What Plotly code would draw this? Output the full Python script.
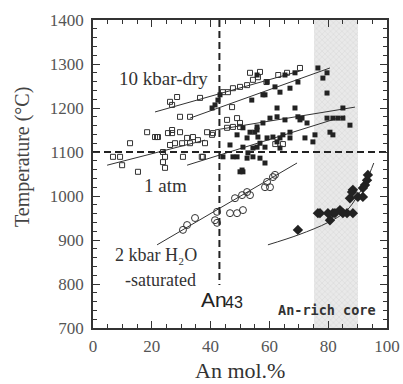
import plotly.graph_objects as go

# ---- data ----
open_sq_x = [6.8, 9.2, 9.9, 12.6, 15.3, 18.4, 21.1, 22.1, 23.8, 23.8, 24.5, 25.5, 26.9, 26.2, 27.9, 29.6,
             30.3, 32, 33, 33, 34, 37.4, 38.1, 38.8, 40.8, 21.8, 26.9, 29.6, 24.5, 30.6, 37, 40.5, 35.7,
             45.6, 49, 45.6, 50, 26.9, 28.6, 36.4, 47.3, 44.2, 45.9, 47.6, 50, 52.4, 54.4, 56.1, 53.4,
             47.6, 50, 26.2, 56.8, 70.4, 66, 63, 59, 62, 64.6]
open_sq_y = [1089, 1089, 1070, 1120, 1055, 1145, 1134, 1134, 1100, 1077, 1064, 1143, 1143, 1116, 1120, 1180,
             1120, 1132, 1180, 1120, 1134, 1089, 1120, 1145, 1143, 1134, 1150, 1145, 1089, 1089, 1089, 1139, 1127,
             1173, 1177, 1155, 1166, 1207, 1225, 1223, 1202, 1236, 1236, 1245, 1248, 1252, 1264, 1270, 1280,
             1157, 1157, 1214, 1282, 1291, 1280, 1275, 1259, 1118, 1118]

fill_sq_x = [55, 55.8, 57.8, 60.2, 62.6, 65.3, 69.7, 70.4, 72.8, 61.2, 62.6, 63.6, 64.6, 67, 67, 72.1,
             74.8, 75.5, 56.8, 55.8, 54.4, 58.5, 63.6, 52.4, 52.7, 50, 51, 58.5, 80.6, 81.6, 87.4, 81.6,
             85, 46.6, 51, 44.2, 49, 50.7, 49, 51, 53.4, 55.8, 56.1, 52.4, 59.2, 47.6, 54.4, 56.8,
             41.5, 42.5, 43.2, 40.5, 54, 58.5, 55.8, 59.2, 65.3, 68.7, 61.9, 63.6, 67, 69.7, 57.8,
             76.5, 78.2, 79.6, 79.6, 62.6, 68.7, 85, 71.1, 79.6, 83.3]
fill_sq_y = [1145, 1157, 1166, 1177, 1180, 1173, 1180, 1173, 1166, 1134, 1123, 1132, 1139, 1132, 1145, 1132,
             1123, 1139, 1120, 1111, 1109, 1111, 1109, 1086, 1098, 1055, 1055, 1075, 1145, 1139, 1161, 1177,
             1177, 1116, 1111, 1089, 1089, 1059, 1139, 1155, 1145, 1150, 1134, 1132, 1132, 1089, 1089, 1086,
             1207, 1218, 1230, 1200, 1218, 1230, 1275, 1259, 1275, 1280, 1248, 1236, 1245, 1259, 1230,
             1291, 1268, 1280, 1234, 1200, 1200, 1200, 1177, 1177, 1177]

open_ci_x = [34.7, 32, 42.2, 41.5, 46.6, 49, 51, 48.3, 50.7, 52.4, 30.6, 42.2, 53.4, 59.2, 60.2, 61.2,
             61.9, 58.5]
open_ci_y = [950, 934, 964, 945, 961, 961, 968, 995, 1002, 1009, 923, 939, 1002, 1032, 1020, 1043,
             1048, 1020]

core_x = [76.5, 81.6, 84, 86.4, 88.4, 87.4, 88.4, 90.1, 91.8, 92.5, 93.2, 93.5, 80.6, 69.7, 77.2, 79.9,
          82.3, 85, 91.8, 88.1]
core_y = [961, 961, 968, 961, 961, 995, 1014, 998, 998, 1025, 1036, 1048, 945, 923, 961, 961,
          961, 961, 1018, 1009]

# fitted trend lines
line_10kbar_a_x = [21.1, 71.4]
line_10kbar_a_y = [1191, 1286]
line_10kbar_b_x = [33, 80.6]
line_10kbar_b_y = [1177, 1291]
line_mid_x = [41.5, 89.1]
line_mid_y = [1150, 1202]
line_1atm_a_x = [4.8, 38.1]
line_1atm_a_y = [1070, 1127]
line_1atm_b_x = [32, 85.7]
line_1atm_b_y = [1070, 1182]
line_2kbar_x = [21.8, 69.4]
line_2kbar_y = [889, 1075]
line_core_x = [59.5, 70, 80, 86, 90, 93, 95.5]
line_core_y = [889, 912, 940, 965, 1000, 1035, 1075]

band_x = [75, 90]
ref_an = 43
ref_T = 1100

fig = go.Figure()

# hatched An-rich core band
fig.add_trace(go.Bar(x=[(band_x[0] + band_x[1]) / 2], y=[700], base=[700], width=[band_x[1] - band_x[0]],
                     marker=dict(color="#e8e8e8", line=dict(width=0),
                                 pattern=dict(shape="x", fgcolor="#bdbdbd", bgcolor="#e9e9e9", size=4, solidity=0.2)),
                     showlegend=False, hoverinfo="skip"))

for lx, ly in [(line_10kbar_a_x, line_10kbar_a_y), (line_10kbar_b_x, line_10kbar_b_y),
               (line_mid_x, line_mid_y), (line_1atm_a_x, line_1atm_a_y),
               (line_1atm_b_x, line_1atm_b_y), (line_2kbar_x, line_2kbar_y)]:
    fig.add_trace(go.Scatter(x=lx, y=ly, mode="lines", line=dict(color="#333", width=1), showlegend=False))
fig.add_trace(go.Scatter(x=line_core_x, y=line_core_y, mode="lines", line=dict(color="#333", width=1, shape="spline"),
                         showlegend=False))

# reference dashed lines
fig.add_trace(go.Scatter(x=[0, 100], y=[ref_T, ref_T], mode="lines",
                         line=dict(color="#222", width=2, dash="7px,4px"), showlegend=False))
fig.add_trace(go.Scatter(x=[ref_an, ref_an], y=[1400, 798], mode="lines",
                         line=dict(color="#222", width=2, dash="7px,4px"), showlegend=False))

fig.add_trace(go.Scatter(x=open_sq_x, y=open_sq_y, mode="markers",
                         marker=dict(symbol="square-open", size=5, color="#333", line=dict(width=1)), showlegend=False))
fig.add_trace(go.Scatter(x=fill_sq_x, y=fill_sq_y, mode="markers",
                         marker=dict(symbol="square", size=5, color="#222"), showlegend=False))
fig.add_trace(go.Scatter(x=open_ci_x, y=open_ci_y, mode="markers",
                         marker=dict(symbol="circle-open", size=7, color="#333", line=dict(width=1)), showlegend=False))
fig.add_trace(go.Scatter(x=core_x, y=core_y, mode="markers",
                         marker=dict(symbol="diamond", size=8, color="#222"), showlegend=False))

serif = "Liberation Serif"
ann = [
    dict(x=24.1, y=1268, text="10 kbar-dry", font=dict(family=serif, size=19, color="#333")),
    dict(x=24.8, y=1025, text="1 atm", font=dict(family=serif, size=19, color="#333")),
    dict(x=21.4, y=865, text="2 kbar H₂O", font=dict(family=serif, size=18, color="#333")),
    dict(x=23.1, y=810, text="-saturated", font=dict(family=serif, size=18, color="#333")),
    dict(x=45.9, y=737.5, text="An", xanchor="right", yanchor="bottom", borderpad=0,
         font=dict(family="Liberation Sans", size=21, color="#222")),
    dict(x=44.6, y=737.5, text="43", xanchor="left", yanchor="bottom", borderpad=0,
         font=dict(family="Liberation Sans", size=16, color="#222")),
    dict(x=79.6, y=741, text="<b>An-rich core</b>", font=dict(family="DejaVu Sans Mono", size=13.5, color="#333")),
]
for a in ann:
    fig.add_annotation(showarrow=False, xref="x", yref="y", **a)

# axis titles
fig.add_annotation(xref="paper", yref="paper", x=0.5, y=-0.138, text="An mol.%", showarrow=False,
                   font=dict(family=serif, size=22, color="#333"), xanchor="center", yanchor="middle")
fig.add_annotation(xref="paper", yref="paper", x=-0.2415, y=0.555, text="Temperature (°C)", showarrow=False,
                   textangle=-90, font=dict(family=serif, size=20, color="#444"), xanchor="center", yanchor="middle")

axis_common = dict(showline=True, linecolor="#333", linewidth=1.5, mirror="allticks", ticks="inside",
                   ticklen=7, tickwidth=1, tickcolor="#333", showgrid=False, zeroline=False, automargin=False,
                   tickfont=dict(family=serif, size=17, color="#555"))
fig.update_xaxes(range=[0, 100], dtick=20, tick0=0, ticklabelstandoff=2,
                 minor=dict(dtick=5, ticks="inside", ticklen=4, tickcolor="#333", showgrid=False),
                 **axis_common)
fig.update_yaxes(range=[700, 1400], dtick=100, tick0=700, ticklabelstandoff=4,
                 minor=dict(dtick=20, ticks="inside", ticklen=4, tickcolor="#333", showgrid=False),
                 **axis_common)

fig.update_layout(width=403, height=384, margin=dict(l=93, r=16, t=20, b=56),
                  plot_bgcolor="white", paper_bgcolor="white", bargap=0, showlegend=False)

fig.write_html("out.html")
